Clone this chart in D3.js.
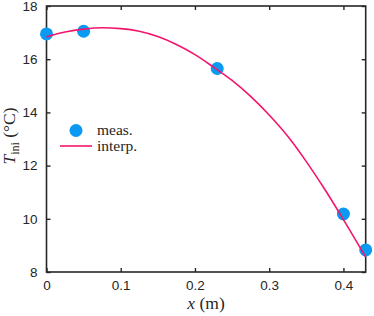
<!DOCTYPE html>
<head>
<meta charset="utf-8">
<script src="https://d3js.org/d3.v7.min.js"></script>
<style>
body { margin:0; background:#fff; }
.axis text { font-family: "Liberation Sans", Arial, sans-serif; font-size:13.5px; fill:#262626; }
.axis path, .axis line { stroke:#262626; stroke-width:1.4; }
.lbl { font-family: "Liberation Serif", "DejaVu Serif", serif; fill:#262626; }
</style>
</head>
<body>
<script>

// measured points
var measX = [0, 0.05, 0.23, 0.40, 0.43];
var measT = [16.95, 17.05, 15.65, 10.18, 8.83];

// interpolated curve
var interpX = [0, 0.025, 0.05, 0.075, 0.1, 0.125, 0.15, 0.175, 0.2, 0.225, 0.25, 0.275, 0.3, 0.325, 0.35, 0.375, 0.4, 0.43];
var interpT = [16.84, 17.02, 17.13, 17.18, 17.15, 17.05, 16.85, 16.55, 16.17, 15.7, 15.2, 14.6, 13.9, 13.1, 12.15, 11.1, 9.97, 8.56];

var xTicks = [0, 0.1, 0.2, 0.3, 0.4];
var yTicks = [8, 10, 12, 14, 16, 18];

var width = 374, height = 316;
var pLeft = 46.5, pRight = 365.7, pTop = 6, pBottom = 272;

var svg = d3.select("body").append("svg")
    .attr("width", width)
    .attr("height", height);

var x = d3.scaleLinear().domain([0, 0.43]).range([pLeft, pRight]);
var y = d3.scaleLinear().domain([8, 18]).range([pBottom, pTop]);

var fmt = function(d) { return d === 0 ? "0" : d3.format("")(d); };

svg.append("g").attr("class", "axis")
    .attr("transform", "translate(0," + pBottom + ")")
    .call(d3.axisBottom(x).tickValues(xTicks).tickFormat(fmt).tickSize(-4).tickPadding(8))
    .call(g => g.select(".domain").remove());

svg.append("g").attr("class", "axis")
    .attr("transform", "translate(0," + pTop + ")")
    .call(d3.axisTop(x).tickValues(xTicks).tickFormat("").tickSize(-4))
    .call(g => g.select(".domain").remove());

svg.append("g").attr("class", "axis")
    .attr("transform", "translate(" + pLeft + ",0)")
    .call(d3.axisLeft(y).tickValues(yTicks).tickFormat(fmt).tickSize(-4).tickPadding(9))
    .call(g => g.select(".domain").remove());

svg.append("g").attr("class", "axis")
    .attr("transform", "translate(" + pRight + ",0)")
    .call(d3.axisRight(y).tickValues(yTicks).tickFormat("").tickSize(-4))
    .call(g => g.select(".domain").remove());

svg.append("rect")
    .attr("x", pLeft).attr("y", pTop)
    .attr("width", pRight - pLeft).attr("height", pBottom - pTop)
    .attr("fill", "none").attr("stroke", "#262626").attr("stroke-width", 1.6);

var line = d3.line()
    .x(function(d, i) { return x(interpX[i]); })
    .y(function(d) { return y(d); })
    .curve(d3.curveMonotoneX);

var blue = "#0a9af2", pink = "#f5146c";

svg.append("g").selectAll("circle")
  .data(measT)
  .enter().append("circle")
    .attr("cx", function(d, i) { return x(measX[i]); })
    .attr("cy", function(d) { return y(d); })
    .attr("r", 6.5)
    .style("fill", blue);

svg.append("path")
    .datum(interpT)
    .attr("d", line)
    .attr("fill", "none")
    .attr("stroke", pink)
    .attr("stroke-width", 1.6);

// legend
svg.append("circle").attr("cx", 76).attr("cy", 130.5).attr("r", 6.5).style("fill", blue);
svg.append("line").attr("x1", 60).attr("x2", 92).attr("y1", 146).attr("y2", 146)
    .attr("stroke", pink).attr("stroke-width", 1.6);
svg.append("text").attr("class", "lbl").attr("x", 97).attr("y", 135)
    .style("font-size", "15.5px").text("meas.");
svg.append("text").attr("class", "lbl").attr("x", 97).attr("y", 151)
    .style("font-size", "15.5px").text("interp.");

// axis labels
var xl = svg.append("text").attr("class", "lbl")
    .attr("x", 206).attr("y", 309)
    .attr("text-anchor", "middle").style("font-size", "17.5px");
xl.append("tspan").style("font-style", "italic").text("x");
xl.append("tspan").text(" (m)");

var yl = svg.append("text").attr("class", "lbl")
    .attr("transform", "translate(15,136) rotate(-90)")
    .attr("text-anchor", "middle").style("font-size", "17.5px");
yl.append("tspan").style("font-style", "italic").text("T");
yl.append("tspan").attr("dy", 4).style("font-size", "12px").text("ini");
yl.append("tspan").attr("dy", -4).text(" (°C)");

</script>
</body>
